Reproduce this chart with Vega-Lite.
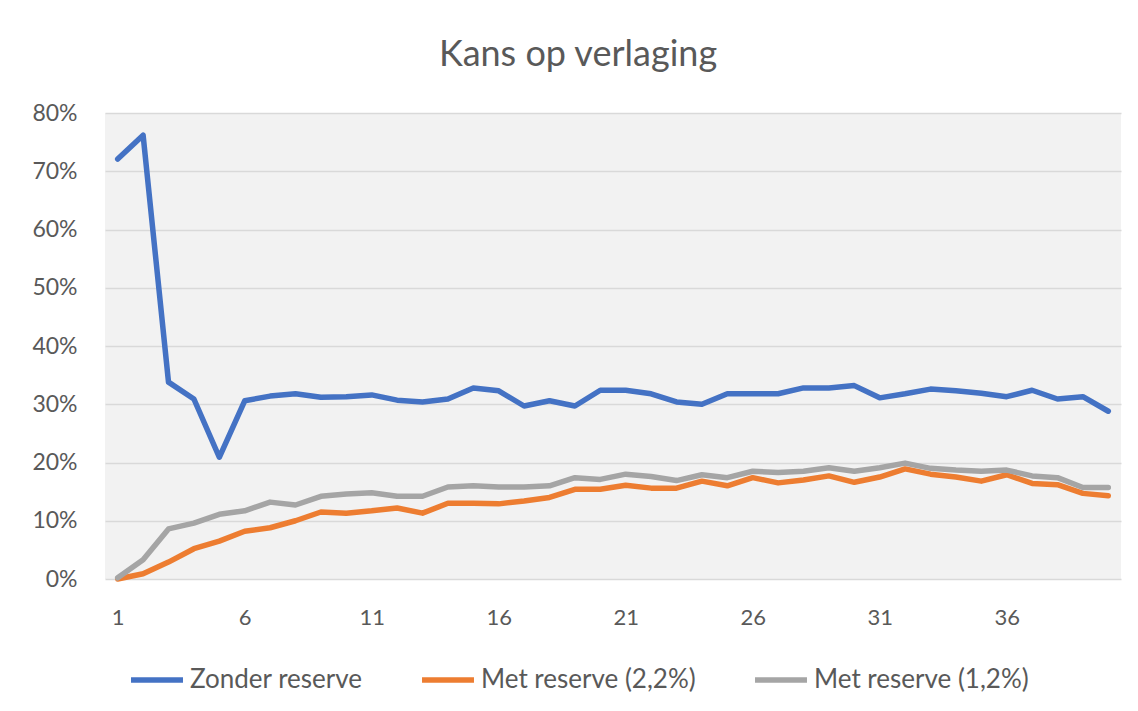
{
  "$schema": "https://vega.github.io/schema/vega-lite/v6.json",
  "autosize": "none",
  "width": 1016,
  "height": 466,
  "padding": {"left": 105, "top": 113, "right": 17, "bottom": 132},
  "background": "white",
  "title": {"text": "Kans op verlaging", "font": "Lato", "fontSize": 36, "fontWeight": "normal", "color": "#595959", "anchor": "middle", "dx": -35, "offset": 28},
  "data": {"values": [
    {"t":1,"s":"Zonder reserve","v":0.721},{"t":2,"s":"Zonder reserve","v":0.762},{"t":3,"s":"Zonder reserve","v":0.338},{"t":4,"s":"Zonder reserve","v":0.309},{"t":5,"s":"Zonder reserve","v":0.209},{"t":6,"s":"Zonder reserve","v":0.306},{"t":7,"s":"Zonder reserve","v":0.314},{"t":8,"s":"Zonder reserve","v":0.318},{"t":9,"s":"Zonder reserve","v":0.312},{"t":10,"s":"Zonder reserve","v":0.313},
    {"t":11,"s":"Zonder reserve","v":0.316},{"t":12,"s":"Zonder reserve","v":0.307},{"t":13,"s":"Zonder reserve","v":0.304},{"t":14,"s":"Zonder reserve","v":0.309},{"t":15,"s":"Zonder reserve","v":0.328},{"t":16,"s":"Zonder reserve","v":0.323},{"t":17,"s":"Zonder reserve","v":0.297},{"t":18,"s":"Zonder reserve","v":0.306},{"t":19,"s":"Zonder reserve","v":0.297},{"t":20,"s":"Zonder reserve","v":0.324},
    {"t":21,"s":"Zonder reserve","v":0.324},{"t":22,"s":"Zonder reserve","v":0.318},{"t":23,"s":"Zonder reserve","v":0.304},{"t":24,"s":"Zonder reserve","v":0.300},{"t":25,"s":"Zonder reserve","v":0.318},{"t":26,"s":"Zonder reserve","v":0.318},{"t":27,"s":"Zonder reserve","v":0.318},{"t":28,"s":"Zonder reserve","v":0.328},{"t":29,"s":"Zonder reserve","v":0.328},{"t":30,"s":"Zonder reserve","v":0.332},
    {"t":31,"s":"Zonder reserve","v":0.311},{"t":32,"s":"Zonder reserve","v":0.318},{"t":33,"s":"Zonder reserve","v":0.326},{"t":34,"s":"Zonder reserve","v":0.323},{"t":35,"s":"Zonder reserve","v":0.319},{"t":36,"s":"Zonder reserve","v":0.313},{"t":37,"s":"Zonder reserve","v":0.324},{"t":38,"s":"Zonder reserve","v":0.309},{"t":39,"s":"Zonder reserve","v":0.313},{"t":40,"s":"Zonder reserve","v":0.288},
    {"t":1,"s":"Met reserve (2,2%)","v":0.0},{"t":2,"s":"Met reserve (2,2%)","v":0.009},{"t":3,"s":"Met reserve (2,2%)","v":0.029},{"t":4,"s":"Met reserve (2,2%)","v":0.052},{"t":5,"s":"Met reserve (2,2%)","v":0.065},{"t":6,"s":"Met reserve (2,2%)","v":0.082},{"t":7,"s":"Met reserve (2,2%)","v":0.088},{"t":8,"s":"Met reserve (2,2%)","v":0.100},{"t":9,"s":"Met reserve (2,2%)","v":0.115},{"t":10,"s":"Met reserve (2,2%)","v":0.113},
    {"t":11,"s":"Met reserve (2,2%)","v":0.117},{"t":12,"s":"Met reserve (2,2%)","v":0.122},{"t":13,"s":"Met reserve (2,2%)","v":0.113},{"t":14,"s":"Met reserve (2,2%)","v":0.130},{"t":15,"s":"Met reserve (2,2%)","v":0.130},{"t":16,"s":"Met reserve (2,2%)","v":0.129},{"t":17,"s":"Met reserve (2,2%)","v":0.134},{"t":18,"s":"Met reserve (2,2%)","v":0.140},{"t":19,"s":"Met reserve (2,2%)","v":0.154},{"t":20,"s":"Met reserve (2,2%)","v":0.154},
    {"t":21,"s":"Met reserve (2,2%)","v":0.161},{"t":22,"s":"Met reserve (2,2%)","v":0.156},{"t":23,"s":"Met reserve (2,2%)","v":0.156},{"t":24,"s":"Met reserve (2,2%)","v":0.168},{"t":25,"s":"Met reserve (2,2%)","v":0.160},{"t":26,"s":"Met reserve (2,2%)","v":0.174},{"t":27,"s":"Met reserve (2,2%)","v":0.165},{"t":28,"s":"Met reserve (2,2%)","v":0.170},{"t":29,"s":"Met reserve (2,2%)","v":0.177},{"t":30,"s":"Met reserve (2,2%)","v":0.166},
    {"t":31,"s":"Met reserve (2,2%)","v":0.175},{"t":32,"s":"Met reserve (2,2%)","v":0.189},{"t":33,"s":"Met reserve (2,2%)","v":0.180},{"t":34,"s":"Met reserve (2,2%)","v":0.175},{"t":35,"s":"Met reserve (2,2%)","v":0.168},{"t":36,"s":"Met reserve (2,2%)","v":0.179},{"t":37,"s":"Met reserve (2,2%)","v":0.164},{"t":38,"s":"Met reserve (2,2%)","v":0.162},{"t":39,"s":"Met reserve (2,2%)","v":0.147},{"t":40,"s":"Met reserve (2,2%)","v":0.143},
    {"t":1,"s":"Met reserve (1,2%)","v":0.002},{"t":2,"s":"Met reserve (1,2%)","v":0.033},{"t":3,"s":"Met reserve (1,2%)","v":0.086},{"t":4,"s":"Met reserve (1,2%)","v":0.096},{"t":5,"s":"Met reserve (1,2%)","v":0.111},{"t":6,"s":"Met reserve (1,2%)","v":0.117},{"t":7,"s":"Met reserve (1,2%)","v":0.132},{"t":8,"s":"Met reserve (1,2%)","v":0.127},{"t":9,"s":"Met reserve (1,2%)","v":0.142},{"t":10,"s":"Met reserve (1,2%)","v":0.146},
    {"t":11,"s":"Met reserve (1,2%)","v":0.148},{"t":12,"s":"Met reserve (1,2%)","v":0.142},{"t":13,"s":"Met reserve (1,2%)","v":0.142},{"t":14,"s":"Met reserve (1,2%)","v":0.158},{"t":15,"s":"Met reserve (1,2%)","v":0.160},{"t":16,"s":"Met reserve (1,2%)","v":0.158},{"t":17,"s":"Met reserve (1,2%)","v":0.158},{"t":18,"s":"Met reserve (1,2%)","v":0.160},{"t":19,"s":"Met reserve (1,2%)","v":0.174},{"t":20,"s":"Met reserve (1,2%)","v":0.171},
    {"t":21,"s":"Met reserve (1,2%)","v":0.180},{"t":22,"s":"Met reserve (1,2%)","v":0.176},{"t":23,"s":"Met reserve (1,2%)","v":0.169},{"t":24,"s":"Met reserve (1,2%)","v":0.179},{"t":25,"s":"Met reserve (1,2%)","v":0.174},{"t":26,"s":"Met reserve (1,2%)","v":0.185},{"t":27,"s":"Met reserve (1,2%)","v":0.183},{"t":28,"s":"Met reserve (1,2%)","v":0.185},{"t":29,"s":"Met reserve (1,2%)","v":0.191},{"t":30,"s":"Met reserve (1,2%)","v":0.185},
    {"t":31,"s":"Met reserve (1,2%)","v":0.191},{"t":32,"s":"Met reserve (1,2%)","v":0.199},{"t":33,"s":"Met reserve (1,2%)","v":0.190},{"t":34,"s":"Met reserve (1,2%)","v":0.187},{"t":35,"s":"Met reserve (1,2%)","v":0.185},{"t":36,"s":"Met reserve (1,2%)","v":0.187},{"t":37,"s":"Met reserve (1,2%)","v":0.177},{"t":38,"s":"Met reserve (1,2%)","v":0.174},{"t":39,"s":"Met reserve (1,2%)","v":0.157},{"t":40,"s":"Met reserve (1,2%)","v":0.157}
  ]},
  "mark": {"type": "line", "strokeWidth": 5.5, "strokeCap": "round", "strokeJoin": "round"},
  "encoding": {
    "x": {"field": "t", "type": "ordinal", "sort": "ascending",
      "scale": {"type": "point", "padding": 0.5},
      "axis": {"title": null, "labelAngle": 0, "ticks": false, "domain": false, "grid": false,
        "labelExpr": "(datum.value - 1) % 5 == 0 ? datum.label : ''",
        "labelFont": "Lato", "labelFontSize": 22, "labelColor": "#595959", "labelPadding": 28}},
    "y": {"field": "v", "type": "quantitative",
      "scale": {"domain": [0, 0.8], "nice": false},
      "axis": {"title": null, "format": ".0%", "values": [0,0.1,0.2,0.3,0.4,0.5,0.6,0.7,0.8], "labelOverlap": false,
        "ticks": false, "domain": false, "grid": true, "gridColor": "#d9d9d9", "gridWidth": 1.5,
        "labelFont": "Lato", "labelFontSize": 23, "labelColor": "#595959", "labelPadding": 28}},
    "color": {"field": "s", "type": "nominal",
      "scale": {"domain": ["Zonder reserve", "Met reserve (2,2%)", "Met reserve (1,2%)"], "range": ["#4472C4", "#ED7D31", "#A5A5A5"]},
      "legend": {"title": null, "orient": "none", "legendX": 23, "legendY": 538, "direction": "horizontal", "symbolType": "stroke", "symbolSize": 2700, "symbolStrokeWidth": 5.5,
        "labelFont": "Lato", "labelFontSize": 26, "labelColor": "#595959", "columnPadding": 48, "labelOffset": 4, "labelLimit": 400}}
  },
  "config": {"view": {"fill": "#f2f2f2", "stroke": null}}
}
